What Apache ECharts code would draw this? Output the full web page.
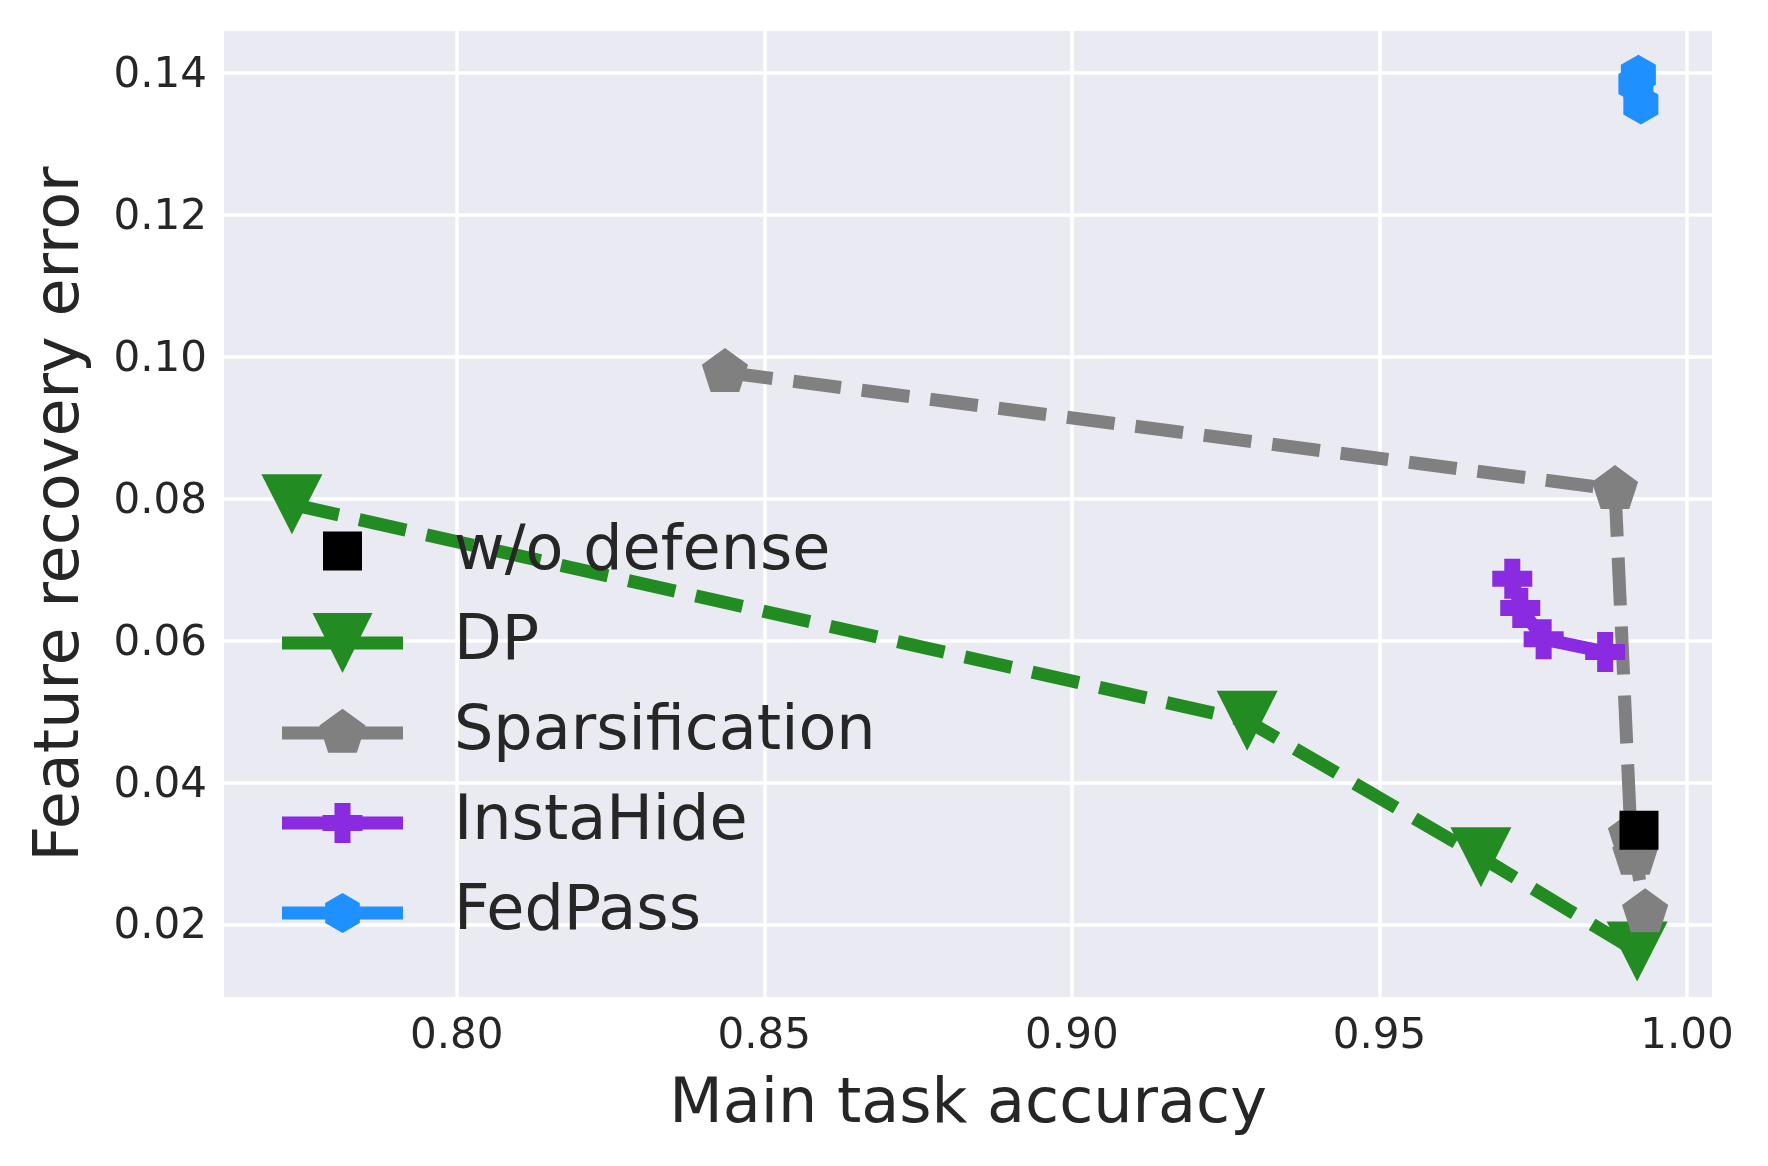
<!DOCTYPE html>
<html>
<head>
<meta charset="utf-8">
<script src="https://cdn.jsdelivr.net/npm/echarts@6/dist/echarts.min.js"></script>
<style>
html,body{margin:0;padding:0;background:#fff;}
#chart{width:1768px;height:1166px;}
</style>
</head>
<body>
<div id="chart"></div>
<script>
// ---- data ----
const seriesNames = ['w/o defense', 'DP', 'Sparsification', 'InstaHide', 'FedPass'];
const xTicks = [0.80, 0.85, 0.90, 0.95, 1.00];
const yTicks = [0.02, 0.04, 0.06, 0.08, 0.10, 0.12, 0.14];

const noDefX = [0.9922];
const noDefY = [0.0333];

const dpX = [0.7732, 0.9285, 0.9665, 0.9919];
const dpY = [0.0792, 0.0487, 0.0295, 0.0162];

const spX = [0.8436, 0.9883, 0.9909, 0.9916, 0.9932];
const spY = [0.0978, 0.0813, 0.0325, 0.0298, 0.0217];

const ihX = [0.9716, 0.9729, 0.9767, 0.9867];
const ihY = [0.0687, 0.0646, 0.0602, 0.0584];

const fpX = [0.9921, 0.9917, 0.9925];
const fpY = [0.1397, 0.1384, 0.1355];

function pairs(xs, ys) { return xs.map((x, i) => [x, ys[i]]); }

// ---- styles ----
const FONT = 'DejaVu Sans';
const TXT = '#262626';
const C_NO = '#000000', C_DP = '#228B22', C_SP = '#808080', C_IH = '#8A2BE2', C_FP = '#1E90FF';

const SYM_TRI = 'path://M0,0 L60,0 L30,60 Z';
const SYM_PENT = 'path://M23.1,0 L46.2,16.8 L37.4,44 L8.8,44 L0,16.8 Z';
const SYM_PLUS = 'path://M12,0 L28,0 L28,12 L40,12 L40,28 L28,28 L28,40 L12,40 L12,28 L0,28 L0,12 L12,12 Z';
const SYM_HEX = 'path://M17.32,0 L34.64,10 L34.64,30 L17.32,40 L0,30 L0,10 Z';

const BOX = 'M0,0 M167,64 ';
const LINE = 'M0,25.5 L121,25.5 L121,38.5 L0,38.5 Z ';
const ICON_NO = 'path://' + BOX + 'M41,10.5 L80,10.5 L80,49.5 L41,49.5 Z';
const ICON_DP = 'path://' + BOX + LINE + 'M30.5,2 L90.5,2 L60.5,62 Z';
const ICON_SP = 'path://' + BOX + LINE + 'M60.5,7.7 L83.6,24.5 L74.8,51.7 L46.2,51.7 L37.4,24.5 Z';
const ICON_IH = 'path://' + BOX + LINE + 'M52.5,12 L68.5,12 L68.5,24 L80.5,24 L80.5,40 L68.5,40 L68.5,52 L52.5,52 L52.5,40 L40.5,40 L40.5,24 L52.5,24 Z';
const ICON_FP = 'path://' + BOX + LINE + 'M60.5,12 L77.8,22 L77.8,42 L60.5,52 L43.2,42 L43.2,22 Z';

const dashed = [48, 21];

const chart = echarts.init(document.getElementById('chart'), null, {renderer: 'canvas'});
chart.setOption({
  animation: false,
  backgroundColor: '#ffffff',
  grid: {
    left: 224, right: 56, top: 31, bottom: 169,
    show: true, backgroundColor: '#EAEAF2', borderWidth: 0
  },
  xAxis: {
    type: 'value',
    min: 0.76216, max: 1.00407,
    name: 'Main task accuracy',
    nameLocation: 'middle',
    nameGap: 78,
    nameTextStyle: {fontFamily: FONT, fontSize: 62, color: TXT},
    axisLine: {show: false},
    axisTick: {show: false, customValues: xTicks},
    axisLabel: {
      customValues: xTicks,
      formatter: v => v.toFixed(2),
      fontFamily: FONT, fontSize: 42, color: TXT, margin: 19
    },
    splitLine: {show: true, lineStyle: {color: '#ffffff', width: 3.5}}
  },
  yAxis: {
    type: 'value',
    min: 0.0098, max: 0.14587,
    name: 'Feature recovery error',
    nameLocation: 'middle',
    nameGap: 131,
    nameTextStyle: {fontFamily: FONT, fontSize: 62, color: TXT},
    axisLine: {show: false},
    axisTick: {show: false, customValues: yTicks},
    axisLabel: {
      customValues: yTicks,
      formatter: v => '{t|' + v.toFixed(2) + '}',
      color: TXT, margin: 17,
      rich: {t: {fontFamily: FONT, fontSize: 42, color: TXT, padding: [6, 0, 0, 0]}}
    },
    splitLine: {show: true, lineStyle: {color: '#ffffff', width: 3.5}}
  },
  legend: {
    orient: 'vertical',
    left: 277, top: 516,
    itemWidth: 167, itemHeight: 64, itemGap: 26,
    selectedMode: false,
    itemStyle: {borderWidth: 0, opacity: 1},
    textStyle: {fontFamily: FONT, fontSize: 62, color: TXT, lineHeight: 64},
    data: [
      {name: seriesNames[0], icon: ICON_NO},
      {name: seriesNames[1], icon: ICON_DP},
      {name: seriesNames[2], icon: ICON_SP},
      {name: seriesNames[3], icon: ICON_IH},
      {name: seriesNames[4], icon: ICON_FP}
    ]
  },
  series: [
    {
      name: seriesNames[1], type: 'line', z: 2,
      data: pairs(dpX, dpY),
      symbol: SYM_TRI, symbolSize: [61, 60],
      itemStyle: {color: C_DP, borderWidth: 0},
      lineStyle: {color: C_DP, width: 13, type: dashed, cap: 'butt'}
    },
    {
      name: seriesNames[2], type: 'line', z: 3,
      data: pairs(spX, spY),
      symbol: SYM_PENT, symbolSize: [46.2, 44], symbolOffset: [0, -2.3],
      itemStyle: {color: C_SP, borderWidth: 0},
      lineStyle: {color: C_SP, width: 13, type: dashed, cap: 'butt'}
    },
    {
      name: seriesNames[3], type: 'line', z: 4,
      data: pairs(ihX, ihY),
      symbol: SYM_PLUS, symbolSize: [40, 40],
      itemStyle: {color: C_IH, borderWidth: 0},
      lineStyle: {color: C_IH, width: 13}
    },
    {
      name: seriesNames[4], type: 'line', z: 5,
      data: pairs(fpX, fpY),
      symbol: SYM_HEX, symbolSize: [35, 40],
      itemStyle: {color: C_FP, borderWidth: 0},
      lineStyle: {color: C_FP, width: 13}
    },
    {
      name: seriesNames[0], type: 'scatter', z: 6,
      data: pairs(noDefX, noDefY),
      symbol: 'rect', symbolSize: 39,
      itemStyle: {color: C_NO, borderWidth: 0, opacity: 1}
    }
  ]
});
</script>
</body>
</html>
